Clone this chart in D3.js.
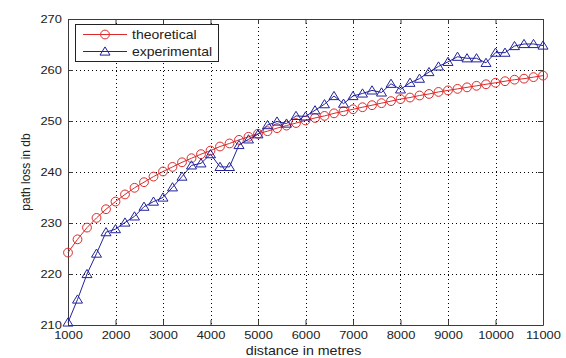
<!DOCTYPE html>
<html>
<head>
<meta charset="utf-8">
<script src="https://cdn.jsdelivr.net/npm/d3@7.9.0/dist/d3.min.js"></script>
<style>
  body { margin: 0; background: #fff; }
  svg { display: block; font-family: "Liberation Sans", Arial, sans-serif; }
</style>
</head>
<body>
<svg id="chart" width="566" height="358"></svg>
<script>
// distance in metres (200 m steps)
const distance = [1000,1200,1400,1600,1800,2000,2200,2400,2600,2800,3000,3200,3400,3600,3800,4000,4200,4400,4600,4800,5000,5200,5400,5600,5800,6000,6200,6400,6600,6800,7000,7200,7400,7600,7800,8000,8200,8400,8600,8800,9000,9200,9400,9600,9800,10000,10200,10400,10600,10800,11000];

// path loss in db
const theoretical = [224.2,226.8,229.1,231.0,232.7,234.2,235.6,236.9,238.0,239.1,240.1,241.0,241.9,242.7,243.5,244.2,245.0,245.6,246.3,246.9,247.5,248.0,248.6,249.1,249.6,250.1,250.6,251.0,251.5,251.9,252.3,252.7,253.1,253.5,253.9,254.3,254.6,255.0,255.3,255.7,256.0,256.3,256.6,256.9,257.2,257.5,257.8,258.1,258.3,258.6,258.9];
const experimental = [210.5,215.0,220.0,224.0,228.2,228.8,230.1,231.3,233.2,234.2,235.0,237.0,239.1,241.3,241.7,243.5,241.0,241.0,245.3,246.4,247.4,249.2,249.9,249.5,251.0,250.9,252.1,253.3,254.9,253.4,254.9,255.4,256.0,255.6,257.3,256.2,257.5,258.3,259.6,260.7,261.6,262.6,262.3,262.3,261.4,263.4,263.4,264.7,265.1,265.1,264.8];

const xTicks = [1000,2000,3000,4000,5000,6000,7000,8000,9000,10000,11000];
const yTicks = [210,220,230,240,250,260,270];
const seriesNames = ["theoretical", "experimental"];

const red = "#dd2a2a", blue = "#22229c", axisCol = "#3a3a3a";

const svg = d3.select("#chart");
svg.append("rect").attr("width", 566).attr("height", 358).attr("fill", "#fff");

const x = d3.scaleLinear().domain([1000, 11000]).range([68, 543]);
const y = d3.scaleLinear().domain([210, 270]).range([325, 19]);

// dotted grid
const grid = svg.append("g").attr("stroke", "#000").attr("stroke-dasharray", "1,3").attr("stroke-width", 1);
grid.selectAll("line.v").data(xTicks.slice(1, -1)).join("line")
  .attr("class", "v")
  .attr("x1", d => Math.round(x(d)) + 0.5).attr("x2", d => Math.round(x(d)) + 0.5)
  .attr("y1", y(270)).attr("y2", y(210));
grid.selectAll("line.h").data(yTicks.slice(1, -1)).join("line")
  .attr("class", "h")
  .attr("y1", d => Math.round(y(d)) + 0.5).attr("y2", d => Math.round(y(d)) + 0.5)
  .attr("x1", x(1000)).attr("x2", x(11000));

// axes (box with inward ticks like matlab)
function styleAxis(g) {
  g.select(".domain").attr("stroke", axisCol);
  g.selectAll(".tick line").attr("stroke", axisCol);
  g.selectAll("text").attr("fill", "#222").attr("font-size", 11.5)
    .attr("font-family", "Liberation Sans, Arial, sans-serif");
}
const bottom = svg.append("g").attr("transform", `translate(0,${y(210)})`)
  .call(d3.axisBottom(x).tickValues(xTicks).tickFormat(d3.format("d")).tickSizeInner(-5).tickSizeOuter(0).tickPadding(6))
  .call(styleAxis);
bottom.selectAll("text").attr("transform", "scale(1.12,1)");

const left = svg.append("g").attr("transform", `translate(${x(1000)},0)`)
  .call(d3.axisLeft(y).tickValues(yTicks).tickFormat(d3.format("d")).tickSizeInner(-5).tickSizeOuter(0).tickPadding(5.5))
  .call(styleAxis);
left.selectAll("text").attr("transform", "scale(1.12,1)");

svg.append("g").attr("transform", `translate(0,${y(270)})`)
  .call(d3.axisTop(x).tickValues(xTicks).tickFormat("").tickSizeInner(-5).tickSizeOuter(0))
  .call(styleAxis);
svg.append("g").attr("transform", `translate(${x(11000)},0)`)
  .call(d3.axisRight(y).tickValues(yTicks).tickFormat("").tickSizeInner(-5).tickSizeOuter(0))
  .call(styleAxis);

// axis titles
svg.append("text")
  .attr("transform", `translate(${(x(1000) + x(11000)) / 2 - 2},355) scale(1.14,1)`)
  .attr("text-anchor", "middle").attr("font-size", 12.5).attr("fill", "#222")
  .text("distance in metres");
svg.append("text")
  .attr("transform", `translate(30,${(y(210) + y(270)) / 2}) rotate(-90)`)
  .attr("text-anchor", "middle").attr("font-size", 12).attr("fill", "#222")
  .text("path loss in db");

// series
const triangle = "M0,-4.6L5,3.6L-5,3.6Z";
const line = d3.line().x((d, i) => x(distance[i])).y(d => y(d));

svg.append("path").datum(theoretical).attr("d", line)
  .attr("fill", "none").attr("stroke", red).attr("stroke-width", 1);
svg.append("g").selectAll("circle").data(theoretical).join("circle")
  .attr("cx", (d, i) => x(distance[i])).attr("cy", d => y(d)).attr("r", 4.4)
  .attr("fill", "none").attr("stroke", red).attr("stroke-width", 1);

svg.append("path").datum(experimental).attr("d", line)
  .attr("fill", "none").attr("stroke", blue).attr("stroke-width", 1);
svg.append("g").selectAll("path").data(experimental).join("path")
  .attr("d", triangle)
  .attr("transform", (d, i) => `translate(${x(distance[i])},${y(d)})`)
  .attr("fill", "none").attr("stroke", blue).attr("stroke-width", 1);

// legend
const legend = svg.append("g");
legend.append("rect").attr("x", 75.5).attr("y", 24.5).attr("width", 143).attr("height", 37)
  .attr("fill", "#fff").attr("stroke", "#222").attr("stroke-width", 1);
const items = legend.selectAll("g.item").data(seriesNames).join("g")
  .attr("class", "item")
  .attr("transform", (d, i) => `translate(0,${34.5 + i * 17})`);
items.append("line").attr("x1", 83).attr("x2", 127).attr("y1", 0).attr("y2", 0)
  .attr("stroke", (d, i) => i ? blue : red);
items.each(function(d, i) {
  const g = d3.select(this);
  if (i === 0) {
    g.append("circle").attr("cx", 105).attr("cy", 0).attr("r", 4.4)
      .attr("fill", "none").attr("stroke", red);
  } else {
    g.append("path").attr("d", triangle).attr("transform", "translate(105,0)")
      .attr("fill", "none").attr("stroke", blue);
  }
});
items.append("text").attr("transform", "translate(132,4.5) scale(1.12,1)")
  .attr("font-size", 12.5).attr("fill", "#222").text(d => d);
</script>
</body>
</html>
